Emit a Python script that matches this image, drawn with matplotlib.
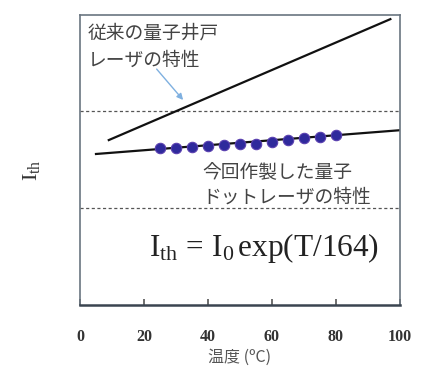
import matplotlib
matplotlib.use("Agg")
import matplotlib.pyplot as plt

plt.rcParams['mathtext.fontset'] = 'custom'
plt.rcParams['mathtext.rm'] = 'Liberation Serif'
plt.rcParams['mathtext.it'] = 'Liberation Serif:italic'

# measured quantum-dot laser threshold (arbitrary units)
temps = [25, 30, 35, 40, 45, 50, 55, 60, 65, 70, 75, 80]
ith_qd = [0.540, 0.541, 0.544, 0.547, 0.551, 0.554, 0.557, 0.562, 0.569, 0.575, 0.580, 0.586]

# fit line for the QD laser and the conventional quantum-well trend
qd_fit_t = [5, 100]
qd_fit_i = [0.521, 0.603]
qw_t = [9, 97]
qw_i = [0.569, 0.986]

# dashed reference levels
ref_levels = [0.334, 0.669]

xticks = [0, 20, 40, 60, 80, 100]

jp = ['Noto Sans CJK JP', 'DejaVu Sans']
grey = '#444444'

fig = plt.figure(figsize=(4.21, 3.68), dpi=100)
ax = fig.add_axes([0.190, 0.171, 0.760, 0.788])

for lv in ref_levels:
    ax.axhline(lv, color='#555555', lw=0.9, ls=(0, (2.5, 2)))

ax.plot(qw_t, qw_i, color='#111111', lw=1.6)
ax.plot(qd_fit_t, qd_fit_i, color='#111111', lw=1.6)
ax.plot(temps, ith_qd, 'o', ms=7.5, color='#2f2a9c', mec='#5a3fb0', mew=0.8)

ax.text(2.5, 0.891, '従来の量子井戸\nレーザの特性', family=jp, fontsize=13.5,
        color=grey, ha='left', va='center', linespacing=1.4)
ax.annotate('', xy=(32.8, 0.700), xytext=(23.4, 0.821),
            arrowprops=dict(arrowstyle='-|>', color='#7fb0e0', lw=1.0,
                            mutation_scale=9))
ax.text(38.4, 0.414, '今回作製した量子\nドットレーザの特性', family=jp, fontsize=13.5,
        color=grey, ha='left', va='center', linespacing=1.25)
ax.text(57.5, 0.197, r'$\mathrm{I_{th}\,=\,I_0\, exp(T/164)}$', fontsize=22.5,
        color='#222222', ha='center', va='center')

ax.set_xlim(0, 100)
ax.set_ylim(0, 1)
ax.set_xticks(xticks)
ax.set_xticklabels([str(t) for t in xticks], family='Liberation Serif',
                   fontsize=11.5, fontweight='bold', color='#333333')
ax.tick_params(axis='x', direction='in', length=4, width=1.2, pad=17,
               color='#555555')
ax.set_yticks([])

ax.set_xlabel('温度 (ºC)', family=jp, fontsize=11.5, color='#555555', va='top')
ax.xaxis.set_label_coords(0.5, -0.150)
ax.set_ylabel(r'$\mathrm{I_{th}}$', fontsize=16, color='#333333')
ax.yaxis.set_label_coords(-0.118, 0.466)

for s in ax.spines.values():
    s.set_color('#6a7580')
    s.set_linewidth(1.2)
ax.spines['bottom'].set_color('#3a4450')
ax.spines['bottom'].set_linewidth(1.8)

fig.savefig('out.png', dpi=100)
